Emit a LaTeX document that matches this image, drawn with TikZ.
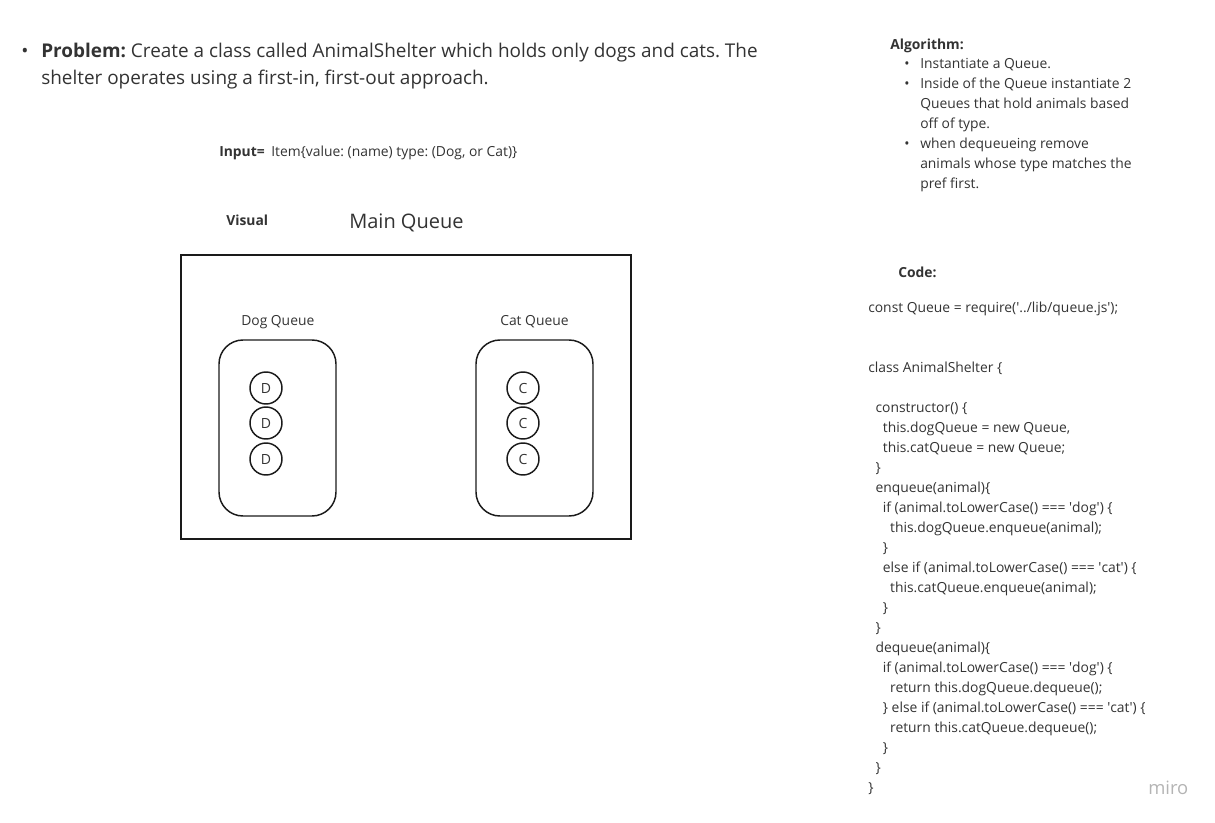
\documentclass[tikz,border=0pt]{standalone}
\usepackage{fontspec}
\setmainfont{Open Sans}
\usepackage{tikz}

\definecolor{ink}{HTML}{333333}
\definecolor{edge}{HTML}{1A1A1A}
\definecolor{logo}{HTML}{B4B4B4}
\newcommand{\q}{\textquotesingle}
\frenchspacing

\tikzset{
  txt/.style={inner sep=0pt, text=ink, anchor=base west, font=\fontsize{10.4}{12}\selectfont},
  bold/.style={txt, font=\fontsize{10.4}{12}\selectfont\bfseries},
  queuebox/.style={draw=edge, line width=1.1pt, rounded corners=18pt, minimum width=87.75pt, minimum height=132pt},
  animal/.style={draw=edge, line width=1.1pt, circle, minimum size=24pt, inner sep=0pt, text=ink, font=\fontsize{10.5}{12}\selectfont}
}

\begin{document}
\begin{tikzpicture}[x=0.75pt, y=-0.75pt]
        \useasboundingbox (0,0) rectangle (1215,822);

        % Problem
        \node[txt, font=\fontsize{14.2}{17}\selectfont] (pdot) at (21,57) {•};
        \node[txt, font=\fontsize{14.2}{17}\selectfont] (prob1) at (41,57) {\textbf{Problem:} Create a class called AnimalShelter which holds only dogs and cats. The};
        \node[txt, font=\fontsize{14.2}{17}\selectfont] (prob2) at (41,84) {shelter operates using a first-in, first-out approach.};

        % Input
        \node[bold] (input) at (219,156.5) {Input=};
        \node[txt] (item) at (271,156.5) {Item\{value: (name) type: (Dog, or Cat)\}};

        % Visual
        \node[bold] (visual) at (226,225.5) {Visual};
        \node[txt, font=\fontsize{15}{18}\selectfont] (mainlabel) at (349,228) {Main Queue};

        % Main Queue
        \node[draw=edge, line width=1.1pt, minimum width=337.5pt, minimum height=213pt] (main) at (406,397) {};

        % Dog / Cat queues
        \node[txt] (doglabel) at (241,325.5) {Dog Queue};
        \node[txt] (catlabel) at (500,325.5) {Cat Queue};
        \node[queuebox] (dogq) at (277.5,428) {};
        \node[queuebox] (catq) at (534.5,428) {};
        \foreach \n/\y in {1/388,2/423,3/459} {
          \node[animal] (d\n) at (266,\y) {D};
          \node[animal] (c\n) at (523,\y) {C};
        }

        % Algorithm
        \node[bold] (algo) at (890,49.5) {Algorithm:};
        \foreach \y in {64,84,144}
          \node[txt] at (904,\y+4.5) {•};
        \foreach \y/\t in {64/{Instantiate a Queue.},
                           84/{Inside of the Queue instantiate 2},
                           104/{Queues that hold animals based},
                           124/{off of type.},
                           144/{when dequeueing remove},
                           164/{animals whose type matches the},
                           184/{pref first.}}
          \node[txt] at (920,\y+4.5) {\t};

        % Code
        \node[bold] (code) at (898,277.5) {Code:};
        \foreach \y/\i/\t in {308/0/{const Queue = require(\q../lib/queue.js\q);},
                              368/0/{class AnimalShelter \{},
                              408/1/{constructor() \{},
                              428/2/{this.dogQueue = new Queue,},
                              448/2/{this.catQueue = new Queue;},
                              468/1/{\}},
                              488/1/{enqueue(animal)\{},
                              508/2/{if (animal.toLowerCase() === \q dog\q) \{},
                              528/3/{this.dogQueue.enqueue(animal);},
                              548/2/{\}},
                              568/2/{else if (animal.toLowerCase() === \q cat\q) \{},
                              588/3/{this.catQueue.enqueue(animal);},
                              608/2/{\}},
                              628/1/{\}},
                              648/1/{dequeue(animal)\{},
                              668/2/{if (animal.toLowerCase() === \q dog\q) \{},
                              688/3/{return this.dogQueue.dequeue();},
                              708/2/{\} else if (animal.toLowerCase() === \q cat\q) \{},
                              728/3/{return this.catQueue.dequeue();},
                              748/2/{\}},
                              768/1/{\}},
                              788/0/{\}}}
          \node[txt] at (868+\i*7.3,\y+4.5) {\t};

        % Logo
        \node[txt, text=logo, font=\fontsize{13.8}{16}\selectfont] (miro) at (1148,794) {miro};
    \end{tikzpicture}
\end{document}
